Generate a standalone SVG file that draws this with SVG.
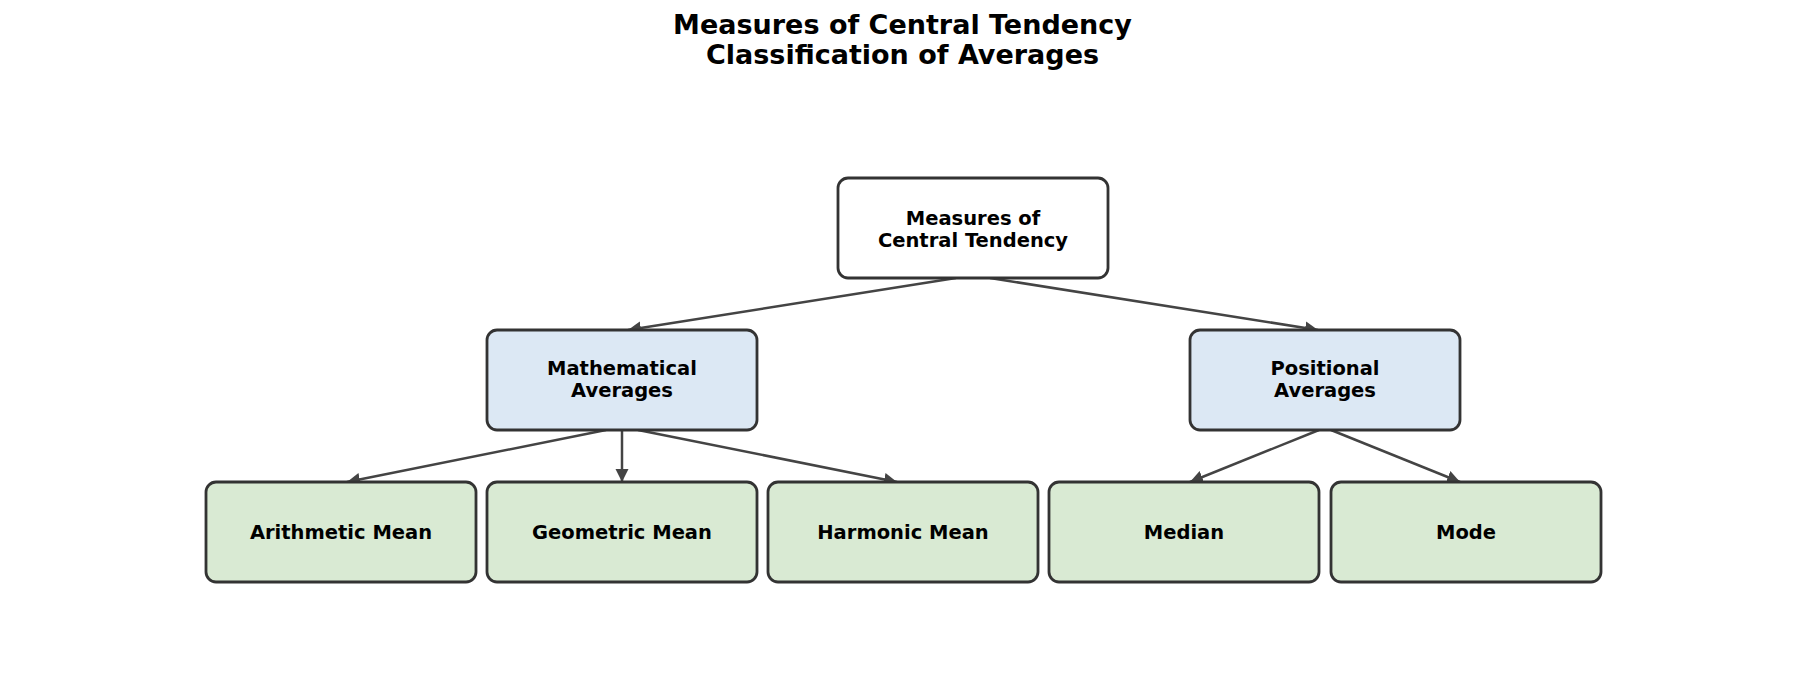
<svg xmlns="http://www.w3.org/2000/svg" width="1805" height="699" viewBox="0 0 1805 699">
<style>
.t{font-family:"DejaVu Sans","Liberation Sans",sans-serif;font-weight:bold;fill:#000;text-anchor:middle}
.title{font-size:27px}
.lbl{font-size:19.5px}
.box{stroke:#333333;stroke-width:2.8}
.root{fill:#ffffff}
.mid{fill:#dce8f4}
.leaf{fill:#d9ead3}
.edge{stroke:#444444;stroke-width:2.5;fill:none;marker-end:url(#ah)}
</style>
<defs>
<marker id="ah" markerUnits="userSpaceOnUse" markerWidth="14" markerHeight="14" refX="13" refY="7" orient="auto">
<path d="M0,0.5 L13,7 L0,13.5 z" fill="#444444"/>
</marker>
</defs>
<rect width="1805" height="699" fill="#ffffff"/>
<g id="title">
<text class="t title" x="902.5" y="34">Measures of Central Tendency</text>
<text class="t title" x="902.5" y="64">Classification of Averages</text>
</g>
<g id="connectors">
<line class="edge" x1="956" y1="278" x2="628" y2="330"/>
<line class="edge" x1="990" y1="278" x2="1318" y2="330"/>
<line class="edge" x1="606" y1="430" x2="347" y2="482"/>
<line class="edge" x1="622" y1="430" x2="622" y2="482"/>
<line class="edge" x1="638" y1="430" x2="897" y2="482"/>
<line class="edge" x1="1319" y1="430" x2="1190" y2="482"/>
<line class="edge" x1="1331" y1="430" x2="1460" y2="482"/>
</g>
<g id="root">
<rect class="box root" x="838" y="178" width="270" height="100" rx="10"/>
<text class="t lbl" x="973" y="224.5">Measures of</text>
<text class="t lbl" x="973" y="246.5">Central Tendency</text>
</g>
<g id="mathematical">
<rect class="box mid" x="487" y="330" width="270" height="100" rx="10"/>
<text class="t lbl" x="622" y="375">Mathematical</text>
<text class="t lbl" x="622" y="397">Averages</text>
</g>
<g id="positional">
<rect class="box mid" x="1190" y="330" width="270" height="100" rx="10"/>
<text class="t lbl" x="1325" y="375">Positional</text>
<text class="t lbl" x="1325" y="397">Averages</text>
</g>
<g id="arithmetic">
<rect class="box leaf" x="206" y="482" width="270" height="100" rx="10"/>
<text class="t lbl" x="341" y="539">Arithmetic Mean</text>
</g>
<g id="geometric">
<rect class="box leaf" x="487" y="482" width="270" height="100" rx="10"/>
<text class="t lbl" x="622" y="539">Geometric Mean</text>
</g>
<g id="harmonic">
<rect class="box leaf" x="768" y="482" width="270" height="100" rx="10"/>
<text class="t lbl" x="903" y="539">Harmonic Mean</text>
</g>
<g id="median">
<rect class="box leaf" x="1049" y="482" width="270" height="100" rx="10"/>
<text class="t lbl" x="1184" y="539">Median</text>
</g>
<g id="mode">
<rect class="box leaf" x="1331" y="482" width="270" height="100" rx="10"/>
<text class="t lbl" x="1466" y="539">Mode</text>
</g>
</svg>
